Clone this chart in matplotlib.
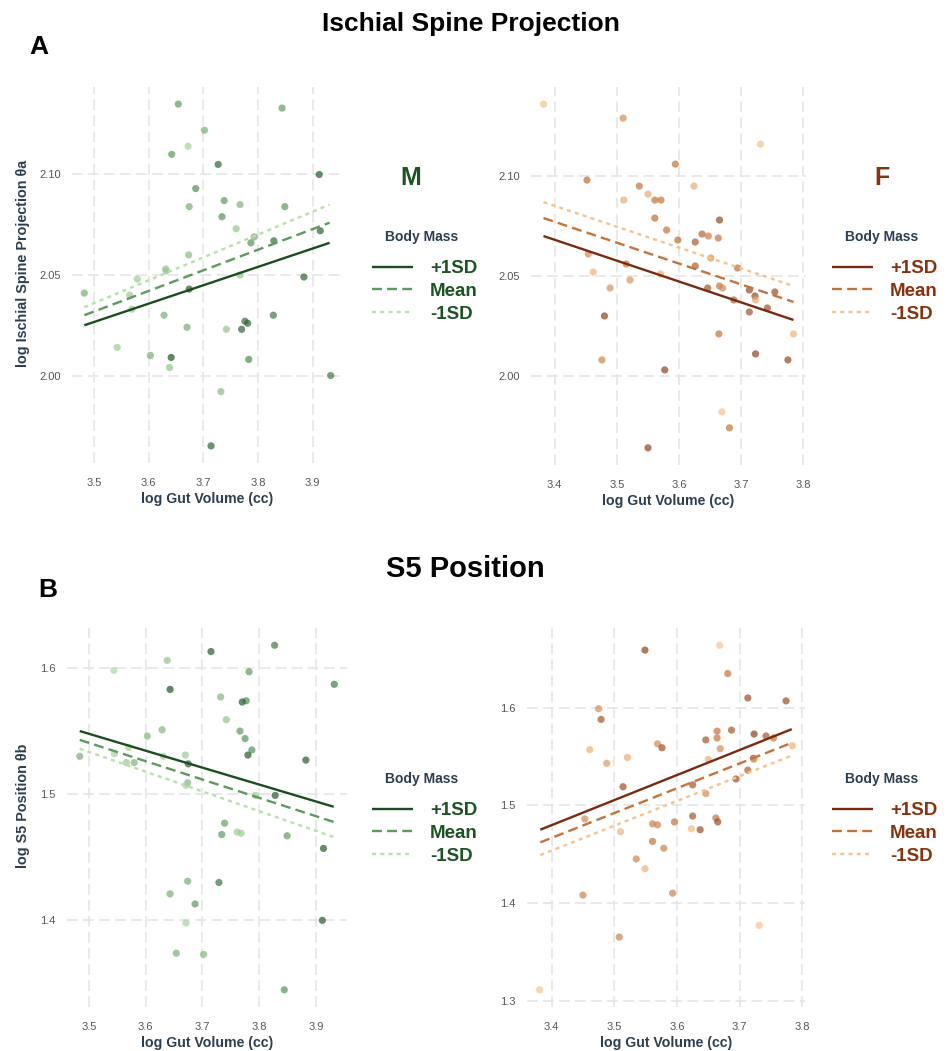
import matplotlib
matplotlib.use("Agg")
import matplotlib.pyplot as plt
from matplotlib.colors import LinearSegmentedColormap

plt.rcParams['font.family'] = ['Liberation Sans', 'DejaVu Sans']

# ---------------- Panel A (Ischial Spine Projection), males ----------------
a_m_x = [3.482, 3.654, 3.844, 3.702, 3.672, 3.642, 3.727, 3.912, 3.686, 3.738,
         3.767, 3.674, 3.849, 3.734, 3.760, 3.914, 3.793, 3.787, 3.829, 3.673,
         3.631, 3.632, 3.579, 3.767, 3.884, 3.674, 3.565, 3.569, 3.628, 3.828,
         3.776, 3.781, 3.670, 3.742, 3.770, 3.542, 3.603, 3.641, 3.783, 3.638,
         3.933, 3.732, 3.714]
a_m_y = [2.041, 2.135, 2.133, 2.122, 2.114, 2.110, 2.105, 2.100, 2.093, 2.087,
         2.085, 2.084, 2.084, 2.079, 2.073, 2.072, 2.069, 2.066, 2.067, 2.060,
         2.053, 2.052, 2.048, 2.050, 2.049, 2.043, 2.040, 2.033, 2.030, 2.030,
         2.027, 2.026, 2.024, 2.023, 2.023, 2.014, 2.010, 2.009, 2.008, 2.004,
         2.000, 1.992, 1.965]
a_m_mass = [0.35, 0.5, 0.5, 0.35, 0.1, 0.5, 0.85, 0.9, 0.6, 0.5,
            0.3, 0.35, 0.5, 0.55, 0.2, 0.85, 0.35, 0.55, 0.8, 0.25,
            0.2, 0.2, 0.15, 0.2, 0.85, 0.9, 0.15, 0.2, 0.35, 0.7,
            0.8, 0.85, 0.35, 0.2, 0.85, 0.15, 0.35, 0.95, 0.6, 0.2,
            0.7, 0.25, 0.85]
a_m_line_x = [3.482, 3.931]
a_m_plus = [2.025, 2.066]
a_m_mean = [2.030, 2.076]
a_m_minus = [2.034, 2.085]

# ---------------- Panel A, females ----------------
a_f_x = [3.382, 3.510, 3.731, 3.594, 3.452, 3.536, 3.624, 3.550, 3.511, 3.561,
         3.571, 3.561, 3.665, 3.580, 3.637, 3.647, 3.663, 3.598, 3.626, 3.454,
         3.651, 3.515, 3.626, 3.694, 3.462, 3.570, 3.521, 3.646, 3.665, 3.670,
         3.489, 3.713, 3.688, 3.722, 3.723, 3.754, 3.742, 3.713, 3.480, 3.784,
         3.664, 3.723, 3.775, 3.476, 3.577, 3.669, 3.681, 3.550]
a_f_y = [2.136, 2.129, 2.116, 2.106, 2.098, 2.095, 2.095, 2.091, 2.088, 2.088,
         2.088, 2.079, 2.078, 2.073, 2.071, 2.070, 2.069, 2.068, 2.067, 2.061,
         2.059, 2.056, 2.055, 2.054, 2.052, 2.051, 2.048, 2.044, 2.045, 2.044,
         2.044, 2.043, 2.038, 2.040, 2.038, 2.042, 2.034, 2.032, 2.030, 2.021,
         2.021, 2.011, 2.008, 2.008, 2.003, 1.982, 1.974, 1.964]
a_f_mass = [0.0, 0.35, 0.0, 0.5, 0.55, 0.5, 0.15, 0.15, 0.15, 0.5,
            0.5, 0.55, 0.8, 0.5, 0.6, 0.45, 0.5, 0.55, 0.65, 0.35,
            0.3, 0.5, 0.65, 0.55, 0.1, 0.15, 0.3, 0.7, 0.45, 0.35,
            0.3, 0.8, 0.65, 0.8, 0.15, 0.75, 0.75, 0.7, 0.85, 0.1,
            0.5, 0.85, 0.8, 0.4, 0.85, 0.0, 0.5, 0.85]
a_f_line_x = [3.382, 3.784]
a_f_plus = [2.070, 2.028]
a_f_mean = [2.079, 2.037]
a_f_minus = [2.087, 2.045]

# ---------------- Panel B (S5 Position), males ----------------
b_m_x = [3.484, 3.544, 3.638, 3.715, 3.827, 3.782, 3.932, 3.643, 3.732, 3.777,
         3.770, 3.742, 3.629, 3.766, 3.603, 3.775, 3.787, 3.570, 3.545, 3.670,
         3.780, 3.631, 3.882, 3.566, 3.580, 3.675, 3.674, 3.671, 3.793, 3.828,
         3.739, 3.734, 3.761, 3.768, 3.849, 3.913, 3.674, 3.729, 3.643, 3.687,
         3.671, 3.911, 3.654, 3.702, 3.844]
b_m_y = [1.530, 1.598, 1.606, 1.613, 1.618, 1.597, 1.587, 1.583, 1.577, 1.574,
         1.573, 1.559, 1.551, 1.550, 1.546, 1.544, 1.535, 1.537, 1.532, 1.531,
         1.531, 1.530, 1.527, 1.525, 1.525, 1.524, 1.509, 1.507, 1.499, 1.499,
         1.477, 1.468, 1.470, 1.469, 1.467, 1.457, 1.431, 1.430, 1.421, 1.413,
         1.398, 1.400, 1.374, 1.373, 1.345]
b_m_mass = [0.35, 0.05, 0.2, 0.9, 0.7, 0.5, 0.7, 0.95, 0.3, 0.6,
            0.9, 0.2, 0.3, 0.5, 0.3, 0.55, 0.55, 0.1, 0.1, 0.15,
            0.9, 0.1, 0.9, 0.15, 0.3, 0.9, 0.3, 0.1, 0.15, 0.9,
            0.45, 0.5, 0.15, 0.15, 0.5, 0.9, 0.35, 0.75, 0.35, 0.5,
            0.1, 0.9, 0.35, 0.3, 0.55]
b_m_line_x = [3.484, 3.931]
b_m_plus = [1.550, 1.490]
b_m_mean = [1.543, 1.478]
b_m_minus = [1.536, 1.466]

# ---------------- Panel B, females ----------------
b_f_x = [3.668, 3.549, 3.681, 3.713, 3.774, 3.475, 3.479, 3.664, 3.687, 3.646,
         3.664, 3.723, 3.742, 3.754, 3.569, 3.576, 3.784, 3.461, 3.669, 3.521,
         3.650, 3.488, 3.722, 3.723, 3.713, 3.694, 3.514, 3.625, 3.646, 3.453,
         3.625, 3.662, 3.665, 3.561, 3.569, 3.596, 3.637, 3.623, 3.510, 3.561,
         3.579, 3.535, 3.549, 3.450, 3.593, 3.731, 3.508, 3.381]
b_f_y = [1.664, 1.659, 1.635, 1.610, 1.607, 1.599, 1.588, 1.576, 1.577, 1.567,
         1.569, 1.573, 1.571, 1.569, 1.563, 1.559, 1.561, 1.557, 1.558, 1.549,
         1.547, 1.543, 1.548, 1.547, 1.536, 1.527, 1.519, 1.521, 1.512, 1.486,
         1.489, 1.487, 1.483, 1.481, 1.480, 1.483, 1.475, 1.476, 1.473, 1.463,
         1.456, 1.445, 1.435, 1.408, 1.410, 1.377, 1.365, 1.311]
b_f_mass = [0.0, 0.85, 0.5, 0.75, 0.75, 0.35, 0.7, 0.5, 0.7, 0.7,
            0.5, 0.85, 0.7, 0.5, 0.35, 0.75, 0.1, 0.1, 0.35, 0.15,
            0.15, 0.25, 1.0, 0.1, 0.65, 0.75, 0.75, 0.7, 0.35, 0.35,
            0.7, 0.5, 0.75, 0.4, 0.4, 0.5, 0.75, 0.05, 0.1, 0.5,
            0.4, 0.4, 0.1, 0.4, 0.4, 0.0, 0.4, 0.0]
b_f_line_x = [3.382, 3.783]
b_f_plus = [1.475, 1.578]
b_f_mean = [1.462, 1.564]
b_f_minus = [1.449, 1.551]

# ---------------- Ticks & labels ----------------
m_xticks = [3.5, 3.6, 3.7, 3.8, 3.9]
f_xticks = [3.4, 3.5, 3.6, 3.7, 3.8]
a_yticks = [2.00, 2.05, 2.10]
a_yticklabels = ["2.00", "2.05", "2.10"]
b_m_yticks = [1.4, 1.5, 1.6]
b_f_yticks = [1.3, 1.4, 1.5, 1.6]
legend_labels = ["+1SD", "Mean", "-1SD"]

# ---------------- Styles ----------------
green_cols = ['#1b4d21', '#5e9a5f', '#b8e0aa']   # +1SD, Mean, -1SD
brown_cols = ['#7a2a0f', '#c4733c', '#f7c28c']
green_cmap = LinearSegmentedColormap.from_list('g', [green_cols[2], green_cols[1], green_cols[0]])
brown_cmap = LinearSegmentedColormap.from_list('b', [brown_cols[2], brown_cols[1], brown_cols[0]])
green_text = '#1d5424'
brown_text = '#86330f'
dark_label = '#2c3e50'
tick_col = '#555555'

W, H = 949, 1051
fig = plt.figure(figsize=(W / 100, H / 100), dpi=100)


def px_axes(left, top, right, bottom):
    return fig.add_axes([left / W, 1 - bottom / H, (right - left) / W, (bottom - top) / H])


def panel(ax, x, y, mass, cmap, lx, plus, mean, minus, cols, xticks, yticks, yticklabels,
          ylabel, ylabel_x=None):
    ax.scatter(x, y, c=mass, cmap=cmap, vmin=0, vmax=1, s=27, alpha=0.7, linewidths=0, zorder=3)
    l1, = ax.plot(lx, plus, color=cols[0], lw=1.7, solid_capstyle='butt', zorder=4)
    l2, = ax.plot(lx, mean, color=cols[1], lw=1.7, dashes=(4.2, 2.2), zorder=4)
    l3, = ax.plot(lx, minus, color=cols[2], lw=1.7, dashes=(1.7, 1.8), zorder=4)
    ax.margins(0.05)
    ax.set_xticks(xticks)
    ax.set_yticks(yticks)
    if yticklabels is not None:
        ax.set_yticklabels(yticklabels)
    ax.grid(True, color='#e3e3e3', lw=1.1, dashes=(7, 3.5))
    ax.set_axisbelow(True)
    for s in ax.spines.values():
        s.set_visible(False)
    ax.tick_params(length=0, labelsize=8, labelcolor=tick_col)
    ax.tick_params(axis='x', pad=11)
    ax.tick_params(axis='y', pad=8)
    ax.set_xlabel("log Gut Volume (cc)", fontsize=10.2, fontweight='bold', color=dark_label, labelpad=3)
    if ylabel:
        ax.set_ylabel(ylabel, fontsize=10.4, fontweight='bold', color=dark_label)
        ax.yaxis.set_label_coords(ylabel_x, 0.53)
    return [l1, l2, l3]


def legend(ax, handles, x_px, y_px, title_x_px, title_y_px, textcol):
    leg = ax.legend(handles, legend_labels, loc='upper left',
                    bbox_to_anchor=(x_px / W, 1 - y_px / H), bbox_transform=fig.transFigure,
                    frameon=False, borderpad=0, borderaxespad=0,
                    handlelength=2.2, handletextpad=0.9, labelspacing=0.3,
                    prop={'size': 13.5, 'weight': 'bold'})
    for t in leg.get_texts():
        t.set_color(textcol)
    fig.text(title_x_px / W, 1 - title_y_px / H, "Body Mass", ha='center', va='center',
             fontsize=10, fontweight='bold', color=dark_label)
    return leg


ax1 = px_axes(72, 87, 343, 463)
h1 = panel(ax1, a_m_x, a_m_y, a_m_mass, green_cmap, a_m_line_x, a_m_plus, a_m_mean, a_m_minus,
           green_cols, m_xticks, a_yticks, a_yticklabels, "log Ischial Spine Projection θa", -0.155)
legend(ax1, h1, 372, 260, 422, 237, green_text)

ax2 = px_axes(531, 87, 806, 465)
h2 = panel(ax2, a_f_x, a_f_y, a_f_mass, brown_cmap, a_f_line_x, a_f_plus, a_f_mean, a_f_minus,
           brown_cols, f_xticks, a_yticks, a_yticklabels, None)
legend(ax2, h2, 832, 260, 882, 237, brown_text)

ax3 = px_axes(67, 628, 347, 1007)
h3 = panel(ax3, b_m_x, b_m_y, b_m_mass, green_cmap, b_m_line_x, b_m_plus, b_m_mean, b_m_minus,
           green_cols, m_xticks, b_m_yticks, None, "log S5 Position θb", -0.132)
legend(ax3, h3, 372, 802, 422, 779, green_text)

ax4 = px_axes(527, 628, 805, 1007)
h4 = panel(ax4, b_f_x, b_f_y, b_f_mass, brown_cmap, b_f_line_x, b_f_plus, b_f_mean, b_f_minus,
           brown_cols, f_xticks, b_f_yticks, None, None)
legend(ax4, h4, 832, 802, 882, 779, brown_text)

# Titles and panel letters
fig.text(471 / W, 1 - 31 / H, "Ischial Spine Projection", ha='center', va='baseline',
         fontsize=19, fontweight='bold', color='black')
fig.text(465 / W, 1 - 577 / H, "S5 Position", ha='center', va='baseline',
         fontsize=21, fontweight='bold', color='black')
fig.text(39 / W, 1 - 54 / H, "A", ha='center', va='baseline', fontsize=19, fontweight='bold', color='black')
fig.text(48 / W, 1 - 597 / H, "B", ha='center', va='baseline', fontsize=19, fontweight='bold', color='black')
fig.text(411 / W, 1 - 178 / H, "M", ha='center', va='center', fontsize=18, fontweight='bold', color=green_text)
fig.text(882 / W, 1 - 178 / H, "F", ha='center', va='center', fontsize=18, fontweight='bold', color=brown_text)

fig.savefig("out.png", dpi=100)
